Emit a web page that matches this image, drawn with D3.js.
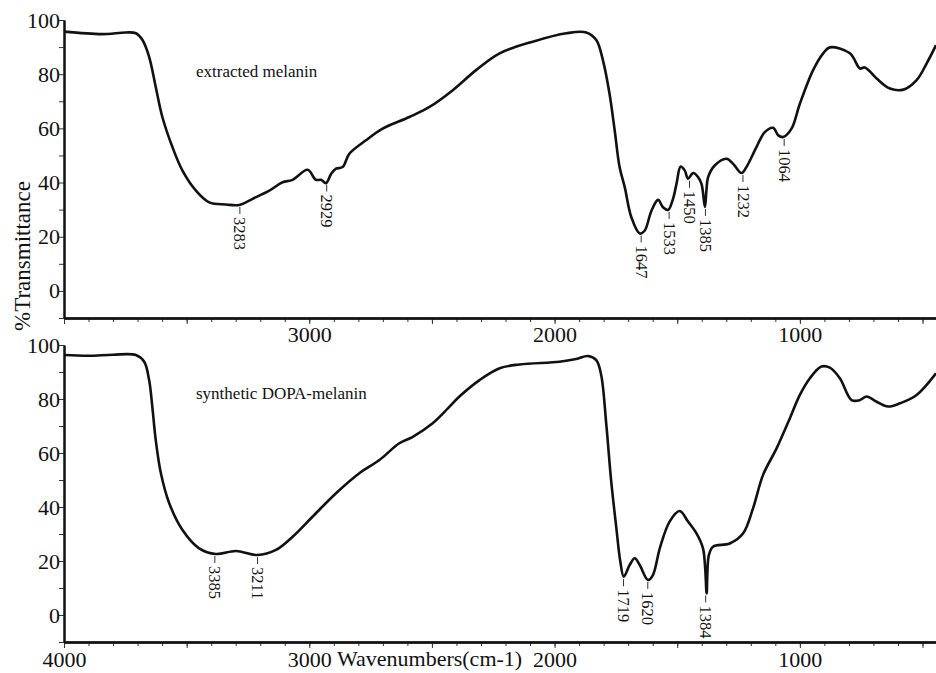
<!DOCTYPE html>
<html>
<head>
<meta charset="utf-8">
<script src="https://cdn.jsdelivr.net/npm/d3@7"></script>
<style>
  body { margin: 0; background: #fff; }
  svg text { font-family: "Liberation Serif", "Times New Roman", serif; fill: #111; }
</style>
</head>
<body>
<div id="chart"></div>
<script>
const width = 936, height = 673;

// extracted melanin spectrum (wavenumber cm-1, %T)
const extractedWn = [4000, 3845, 3748, 3707, 3680, 3653, 3626, 3599, 3558, 3517, 3462, 3408, 3340, 3286, 3231, 3163, 3109, 3068, 3007, 2973, 2952, 2932, 2911, 2891, 2864, 2837, 2769, 2701, 2592, 2510, 2415, 2320, 2224,
  2089, 1952, 1871, 1830, 1803, 1776, 1755, 1735, 1714, 1687, 1653, 1633, 1605, 1578, 1558, 1537, 1517, 1503, 1486, 1469, 1456, 1435, 1415, 1401, 1387, 1381, 1374, 1347, 1299, 1272, 1238, 1218, 1177, 1143, 1109, 1088, 1068, 1034, 1000, 946, 905, 878, 796, 755, 735, 687, 633, 578, 524, 483, 445];
const extractedT = [95.7, 94.8, 95.4, 95.1, 92.6, 86.4, 75.3, 64.2, 53.1, 44.4, 37.0, 32.7, 31.9, 31.7, 34.0, 37.0, 40.1, 41.0, 44.7, 41.0, 41.0, 39.8, 43.2, 45.1, 45.7, 50.6, 55.6, 59.9, 64.2, 67.9, 74.1, 81.5, 87.7,
  92.0, 95.1, 95.4, 92.6, 85.2, 72.8, 59.3, 45.7, 38.3, 27.2, 21.2, 22.2, 29.6, 33.6, 30.9, 29.9, 34.0, 39.5, 45.9, 44.4, 41.4, 43.5, 42.0, 39.5, 31.0, 37.0, 42.0, 46.3, 48.8, 46.9, 43.5, 45.7, 53.1, 58.6, 60.2, 57.4, 56.8, 59.9, 69.1, 81.5, 87.7, 89.9, 87.7, 82.1, 82.5, 78.4, 74.7, 74.3, 77.8, 84.0, 90.7];

// synthetic DOPA-melanin spectrum
const syntheticWn = [4000, 3900, 3800, 3707, 3673, 3653, 3640, 3626, 3605, 3571, 3517, 3449, 3381, 3299, 3211, 3136, 3068, 2987, 2891, 2796, 2714, 2633, 2578, 2497, 2435, 2388, 2306, 2224,
  2143, 1980, 1912, 1864, 1830, 1810, 1789, 1769, 1748, 1732, 1718, 1694, 1673, 1653, 1619, 1599, 1571, 1531, 1490, 1456, 1422, 1395, 1386, 1380, 1371, 1354, 1286, 1231, 1191, 1150, 1095, 1041, 1000, 959, 912, 878, 837, 789, 755, 728, 687, 640, 592, 524, 445];
const syntheticT = [96.3, 96.0, 96.4, 96.3, 93.8, 87.0, 77.2, 64.8, 52.5, 41.4, 31.5, 24.7, 22.6, 23.7, 22.2, 24.1, 29.0, 36.4, 45.1, 52.5, 57.4, 63.6, 66.0, 71.0, 76.5, 80.9, 87.0, 91.4,
  92.8, 93.8, 94.8, 95.9, 94.4, 88.9, 70.4, 49.4, 32.1, 19.8, 14.2, 18.5, 21.0, 18.5, 13.0, 14.8, 24.7, 34.6, 38.5, 34.6, 30.3, 24.7, 17.3, 8.0, 22.2, 25.3, 26.5, 30.3, 39.5, 51.9, 61.7, 72.8, 81.5, 87.7, 92.0, 91.6, 87.7, 79.6, 79.6, 80.9, 79.0, 77.2, 78.4, 81.5, 89.5];

// labelled peaks: wavenumber and the %T of the band minimum
const extractedPeaks = [3283, 2929, 1647, 1533, 1450, 1385, 1232, 1064];
const extractedPeakT = [31.7, 40.0, 21.2, 29.9, 41.4, 31.0, 43.5, 56.8];
const syntheticPeaks = [3385, 3211, 1719, 1620, 1384];
const syntheticPeakT = [22.6, 22.2, 14.0, 13.0, 8.0];

const yTickLabels = [0, 20, 40, 60, 80, 100];
const xTickLabelsTop = [3000, 2000, 1000];
const xTickLabelsBottom = [4000, 3000, 2000, 1000];
const sampleNames = ["extracted melanin", "synthetic DOPA-melanin"];

const svg = d3.select('#chart').append('svg').attr('width', width).attr('height', height);

const x = d3.scaleLinear().domain([4000, 445]).range([64, 936]);

const panels = [
  {wn: extractedWn, t: extractedT, pk: extractedPeaks, pkT: extractedPeakT, labels: xTickLabelsTop, name: sampleNames[0], top: 20, bottom: 318},
  {wn: syntheticWn, t: syntheticT, pk: syntheticPeaks, pkT: syntheticPeakT, labels: xTickLabelsBottom, name: sampleNames[1], top: 345, bottom: 642}
];

panels.forEach((p, i) => {
  let y = d3.scaleLinear().domain([-10, 100]).range([p.bottom, p.top]);
  let g = svg.append('g');

  // axes: minor ticks, then major ticks with labels
  let xMinor = d3.axisBottom(x).tickValues(d3.range(4000, 440, -100)).tickSize(4).tickSizeOuter(0).tickFormat('');
  let xMajor = d3.axisBottom(x).tickValues(d3.range(4000, 440, -500)).tickSize(6).tickSizeOuter(0).tickFormat('');
  let xLab = d3.axisBottom(x).tickValues(p.labels).tickSize(0).tickSizeOuter(0).tickPadding(i ? 9 : 8).tickFormat(d3.format('d'));
  [xMinor, xMajor, xLab].forEach(ax => {
    g.append('g').attr('transform', `translate(0,${p.bottom})`).call(ax);
  });

  let yMinor = d3.axisLeft(y).tickValues(d3.range(-10, 101, 10)).tickSize(5).tickSizeOuter(0).tickFormat('');
  let yLab = d3.axisLeft(y).tickValues(yTickLabels).tickSize(0).tickSizeOuter(0).tickPadding(4).tickFormat(d3.format('d'));
  [yMinor, yLab].forEach(ax => {
    g.append('g').attr('transform', 'translate(64,0)').call(ax);
  });

  g.selectAll('.domain').attr('stroke', '#111').attr('stroke-width', 2);
  g.selectAll('.tick line').attr('stroke', '#333').attr('stroke-width', 1);
  g.selectAll('.tick text').attr('font-size', 22).attr('fill', '#111')
    .style('font-family', '"Liberation Serif", "Times New Roman", serif');

  // spectrum
  let line = d3.line().x(d => x(d[0])).y(d => y(d[1])).curve(d3.curveCatmullRom.alpha(0.5));
  g.append('path')
    .datum(p.wn.map((w, k) => [w, p.t[k]]))
    .attr('fill', 'none')
    .attr('stroke', '#111')
    .attr('stroke-width', 2.6)
    .attr('stroke-linejoin', 'round')
    .attr('d', line);

  // peak annotations
  let ann = g.selectAll('.peak').data(p.pk.map((w, k) => ({w: w, t: p.pkT[k]}))).enter().append('g');
  ann.append('line')
    .attr('x1', d => x(d.w)).attr('x2', d => x(d.w))
    .attr('y1', d => y(d.t) + 2).attr('y2', d => y(d.t) + 9)
    .attr('stroke', '#333').attr('stroke-width', 1);
  ann.append('text')
    .attr('transform', d => `translate(${x(d.w)},${y(d.t) + 12}) rotate(90)`)
    .attr('dy', '0.33em')
    .attr('font-size', 16.5)
    .text(d => d.w);

  g.append('text').attr('x', 196).attr('y', p.top + (i ? 54 : 57)).attr('font-size', 17).text(p.name);
});

svg.append('text')
  .attr('transform', 'translate(30,256) rotate(-90)')
  .attr('text-anchor', 'middle')
  .attr('font-size', 23)
  .text('%Transmittance');

svg.append('text')
  .attr('x', 337).attr('y', 666)
  .attr('font-size', 22)
  .text('Wavenumbers(cm-1)');
</script>
</body>
</html>
